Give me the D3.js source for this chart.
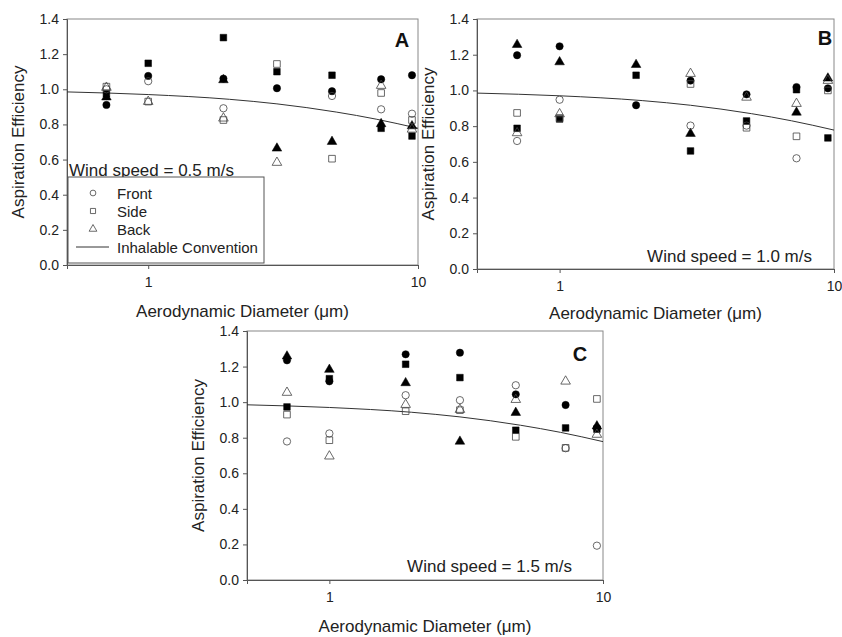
<!DOCTYPE html>
<html>
<head>
<meta charset="utf-8">
<script src="https://cdn.jsdelivr.net/npm/d3@7"></script>
<style>
  body { margin: 0; background: #fff; }
  svg { font-family: "Liberation Sans", Arial, sans-serif; }
</style>
</head>
<body>
<svg id="chart" width="842" height="637"></svg>
<script>
// particle sizes (aerodynamic diameter, um)
const diameters = [0.7, 1.0, 1.9, 3.0, 4.8, 7.3, 9.5];
const yTicks = [0, 0.2, 0.4, 0.6, 0.8, 1.0, 1.2, 1.4];
const xTicks = [1, 10];

// inhalable convention curve
const conventionX = [0.5, 1, 2, 3, 5, 7, 10];
const conventionY = [0.985, 0.97, 0.943, 0.917, 0.87, 0.83, 0.778];

// panel A - 0.5 m/s (null = not visible)
const aFront = [1.00, 1.046, 0.892, null, 0.962, 0.886, 0.861];
const aSide = [1.015, 0.93, 0.825, 1.144, 0.605, 0.979, 0.825];
const aBack = [1.01, 0.93, 0.835, 0.583, null, 1.021, 0.772];
const aFrontFilled = [0.911, 1.076, 1.061, 1.006, 0.989, 1.057, 1.08];
const aSideFilled = [0.975, 1.148, 1.294, 1.10, 1.08, 0.778, 0.734];
const aBackFilled = [0.955, null, 1.053, 0.664, 0.702, 0.803, 0.791];

// panel B - 1.0 m/s
const bFront = [0.717, 0.948, null, 0.803, 0.803, 0.62, null];
const bSide = [0.874, 0.846, null, 1.036, 0.791, 0.743, 1.0];
const bBack = [0.762, 0.868, null, 1.094, 0.961, 0.926, 1.055];
const bFrontFilled = [1.197, 1.247, 0.917, 1.055, 0.978, 1.019, 1.012];
const bSideFilled = [0.788, 0.84, 1.085, 0.661, 0.829, 1.004, 0.734];
const bBackFilled = [1.256, 1.159, 1.144, 0.758, null, 0.877, 1.068];

// panel C - 1.5 m/s
const cFront = [0.779, 0.824, 1.039, 1.011, 1.095, 0.741, 0.193];
const cSide = [0.93, 0.786, 0.949, 0.955, 0.805, 0.743, 1.018];
const cBack = [1.054, 0.696, 0.986, 0.958, 1.014, 1.117, 0.818];
const cFrontFilled = [1.235, 1.117, 1.269, 1.278, 1.044, 0.984, 0.855];
const cSideFilled = [0.973, 1.132, 1.213, 1.138, 0.842, 0.855, 0.848];
const cBackFilled = [1.258, 1.183, 1.108, 0.779, 0.941, null, 0.865];

const panels = [
  { id: "A", left: 67, right: 418, top: 19, bottom: 265, letter: [402, 47],
    wind: "Wind speed = 0.5 m/s", series: [aFront, aSide, aBack, aFrontFilled, aSideFilled, aBackFilled],
    windPos: [69, 176, "start"], titleY: 317, legend: true },
  { id: "B", left: 477, right: 834, top: 19, bottom: 269, letter: [825, 45],
    wind: "Wind speed = 1.0 m/s", series: [bFront, bSide, bBack, bFrontFilled, bSideFilled, bBackFilled],
    windPos: [812, 262, "end"], titleY: 319, legend: false },
  { id: "C", left: 247, right: 603, top: 331, bottom: 580, letter: [580, 361],
    wind: "Wind speed = 1.5 m/s", series: [cFront, cSide, cBack, cFrontFilled, cSideFilled, cBackFilled],
    windPos: [572, 572, "end"], titleY: 632, legend: false }
];

const shapes = [d3.symbolCircle, d3.symbolSquare, d3.symbolTriangle];
const sizes = [42, 44, 40];

const svg = d3.select("#chart");

panels.forEach(p => {
  const x = d3.scaleLog().domain([0.5, 10]).range([p.left, p.right]);
  const y = d3.scaleLinear().domain([0, 1.4]).range([p.bottom, p.top]);
  const g = svg.append("g");

  // frame
  g.append("rect")
    .attr("x", p.left).attr("y", p.top)
    .attr("width", p.right - p.left).attr("height", p.bottom - p.top)
    .attr("fill", "none").attr("stroke", "#888").attr("stroke-width", 1);

  const yAxis = g.append("g")
    .attr("transform", `translate(${p.left},0)`)
    .call(d3.axisLeft(y).tickValues(yTicks).tickFormat(d3.format(".1f")).tickSizeOuter(0).tickSize(4).tickPadding(4));
  const xAxis = g.append("g")
    .attr("transform", `translate(0,${p.bottom})`)
    .call(d3.axisBottom(x).tickValues(xTicks).tickFormat(d3.format("d")).tickSizeOuter(0).tickSize(4).tickPadding(8));
  [yAxis, xAxis].forEach(a => {
    a.select(".domain").attr("stroke", "#555");
    a.selectAll(".tick line").attr("stroke", "#555");
    a.selectAll("text").attr("font-size", 14).attr("fill", "#222")
      .attr("font-family", "Liberation Sans, Arial, sans-serif");
  });

  // axis titles
  g.append("text")
    .attr("transform", `translate(${p.left - 43},${(p.top + p.bottom) / 2}) rotate(-90)`)
    .attr("text-anchor", "middle").attr("font-size", 17).attr("fill", "#222")
    .text("Aspiration Efficiency");
  g.append("text")
    .attr("x", (p.left + p.right) / 2).attr("y", p.titleY)
    .attr("text-anchor", "middle").attr("font-size", 17).attr("fill", "#222")
    .text("Aerodynamic Diameter (μm)");

  // convention line
  const line = d3.line()
    .x(d => x(d[0])).y(d => y(d[1]))
    .curve(d3.curveMonotoneX);
  g.append("path")
    .datum(d3.zip(conventionX, conventionY))
    .attr("d", line)
    .attr("fill", "none").attr("stroke", "#333").attr("stroke-width", 1);

  // points: filled first, open on top
  const order = [5, 4, 3, 2, 1, 0];
  order.forEach(si => {
    const vals = p.series[si];
    const filled = si >= 3;
    const shape = si % 3;
    g.append("g").selectAll("path")
      .data(diameters.map((d, i) => [d, vals[i]]).filter(d => d[1] != null))
      .join("path")
      .attr("transform", d => `translate(${x(d[0])},${y(d[1])})`)
      .attr("d", d3.symbol().type(shapes[shape]).size(sizes[shape]))
      .attr("fill", filled ? "#000" : "none")
      .attr("stroke", filled ? "#000" : "#444")
      .attr("stroke-width", filled ? 0.5 : 0.8);
  });

  // panel letter
  g.append("text")
    .attr("x", p.letter[0]).attr("y", p.letter[1])
    .attr("text-anchor", "middle").attr("font-size", 20).attr("font-weight", "bold")
    .attr("fill", "#111").text(p.id);

  // wind speed
  g.append("text")
    .attr("x", p.windPos[0]).attr("y", p.windPos[1])
    .attr("text-anchor", p.windPos[2]).attr("font-size", 17).attr("fill", "#222")
    .text(p.wind);

  if (p.legend) {
    const lg = g.append("g");
    lg.append("rect")
      .attr("x", 68).attr("y", 177).attr("width", 196).attr("height", 86)
      .attr("fill", "#fff").attr("stroke", "#555").attr("stroke-width", 1);
    const labels = ["Front", "Side", "Back", "Inhalable Convention"];
    labels.forEach((lab, i) => {
      const cy = 193 + i * 18;
      if (i < 3) {
        lg.append("path")
          .attr("transform", `translate(93,${cy})`)
          .attr("d", d3.symbol().type(shapes[i]).size(26))
          .attr("fill", "none").attr("stroke", "#444").attr("stroke-width", 0.8);
      } else {
        lg.append("line").attr("x1", 76).attr("x2", 109).attr("y1", cy).attr("y2", cy)
          .attr("stroke", "#333").attr("stroke-width", 1);
      }
      lg.append("text").attr("x", 117).attr("y", cy + 5.5)
        .attr("font-size", 15).attr("fill", "#222").text(lab);
    });
  }
});
</script>
</body>
</html>
